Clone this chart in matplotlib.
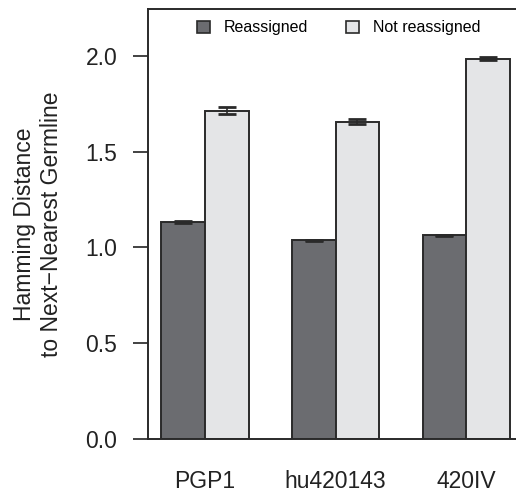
import matplotlib
matplotlib.use('Agg')
import matplotlib.pyplot as plt
from matplotlib.patches import Patch
import numpy as np

# Data
samples = ['PGP1', 'hu420143', '420IV']
reassigned = [1.133, 1.038, 1.064]
reassigned_err = [0.006, 0.003, 0.003]
not_reassigned = [1.713, 1.656, 1.983]
not_reassigned_err = [0.019, 0.012, 0.008]

dark = '#6b6c70'
light = '#e4e5e7'
edge = '#2a2a2a'

plt.rcParams['font.family'] = ['Liberation Sans', 'DejaVu Sans']

fig = plt.figure(figsize=(5.16, 4.98), dpi=100)
ax = fig.add_axes([0.2859, 0.1179, 0.729, 0.864])

# R-style grouped bars: width 1, one bar gap between groups
x = np.arange(len(samples)) * 3 + 1.5
ax.bar(x, reassigned, width=1, color=dark, edgecolor=edge, linewidth=1.4)
ax.bar(x + 1, not_reassigned, width=1, color=light, edgecolor=edge, linewidth=1.4)
ax.errorbar(x, reassigned, yerr=reassigned_err, fmt='none', ecolor=edge,
            elinewidth=1.2, capsize=6.5, capthick=2)
ax.errorbar(x + 1, not_reassigned, yerr=not_reassigned_err, fmt='none',
            ecolor=edge, elinewidth=1.2, capsize=6.5, capthick=2)

ax.set_xlim(0.68, 9.32)
ax.set_ylim(0, 2.243)
ax.set_yticks([0.0, 0.5, 1.0, 1.5, 2.0])
ax.set_yticklabels(['0.0', '0.5', '1.0', '1.5', '2.0'])
ax.set_xticks(x + 0.5)
ax.set_xticklabels(samples)
ax.tick_params(axis='y', length=10.8, width=1.2, pad=11, labelsize=16.5,
               colors='#222222')
ax.tick_params(axis='x', length=0, pad=22, labelsize=16.5, colors='#222222')
for s in ax.spines.values():
    s.set_linewidth(1.4)
    s.set_color('#2a2a2a')

fig.text(0.074, 0.55, 'Hamming Distance\nto Next\u2212Nearest Germline',
         rotation=90, ha='center', va='center', fontsize=16.5,
         linespacing=1.2, color='#222222')

handles = [Patch(facecolor=dark, edgecolor=edge, linewidth=1.2),
           Patch(facecolor=light, edgecolor=edge, linewidth=1.2)]
ax.legend(handles, ['Reassigned', 'Not reassigned'], ncol=2, frameon=False,
          loc='center', bbox_to_anchor=(0.508, 0.956), fontsize=11.5,
          handlelength=0.8, handleheight=0.8, handletextpad=0.87,
          columnspacing=2.4)

fig.savefig('out.png', dpi=100)
